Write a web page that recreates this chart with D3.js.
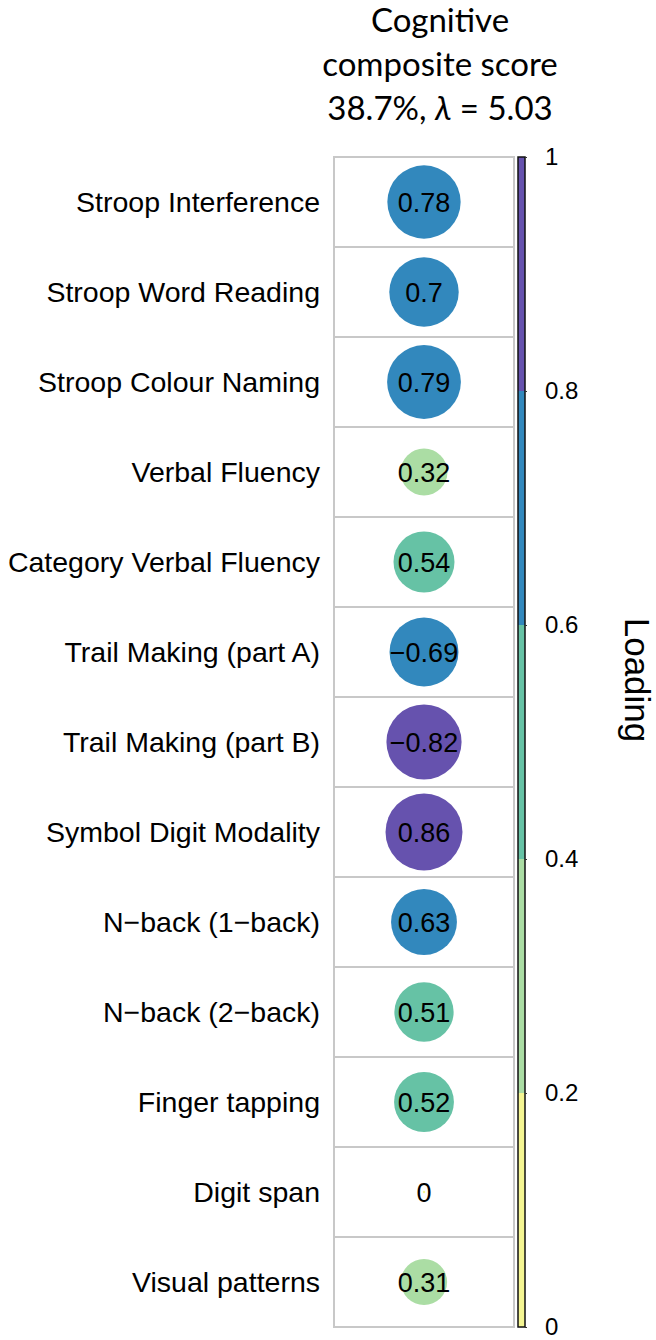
<!DOCTYPE html>
<html><head><meta charset="utf-8">
<script src="https://cdn.jsdelivr.net/npm/d3@7/dist/d3.min.js"></script>
<style>body{margin:0;background:#fff}</style>
</head><body>
<script>
const variables = ["Stroop Interference","Stroop Word Reading","Stroop Colour Naming","Verbal Fluency","Category Verbal Fluency","Trail Making (part A)","Trail Making (part B)","Symbol Digit Modality","N\u2212back (1\u2212back)","N\u2212back (2\u2212back)","Finger tapping","Digit span","Visual patterns"];
const loadings = [0.78,0.7,0.79,0.32,0.54,-0.69,-0.82,0.86,0.63,0.51,0.52,0,0.31];
const legendBreaks = [0,0.2,0.4,0.6,0.8,1];
const legendColors = ["#F4F592","#ABDDA4","#66C2A5","#3288BD","#6652AE"];
const legendTicks = [0,0.2,0.4,0.6,0.8,1];
const titleLines = ["Cognitive","composite score"];

const W=656,H=1340;
const svg=d3.select("body").append("svg").attr("width",W).attr("height",H);
const x0=334,x1=514,yTop=157,yBot=1327;
const y=d3.scaleBand().domain(variables).range([yTop,yBot]);
const color=d3.scaleThreshold().domain(legendBreaks.slice(1,-1)).range(legendColors);
const r=d3.scaleSqrt().domain([0,1]).range([0,41.5]);
const cx=(x0+x1)/2;
const sans="'Liberation Sans', Arial, sans-serif";

// title
const tf="Lato, 'Open Sans', sans-serif";
svg.selectAll("text.t").data(titleLines).join("text").attr("class","t")
 .attr("x",440).attr("y",(d,i)=>32+i*44).attr("text-anchor","middle")
 .attr("font-family",tf).attr("font-size",33).text(d=>d);
const t3=svg.append("text").attr("x",440).attr("y",120).attr("text-anchor","middle")
 .attr("font-family",tf).attr("font-size",33);
t3.append("tspan").text("38.7%, ");
t3.append("tspan").attr("font-style","italic").text("\u03BB");
t3.append("tspan").text(" = 5.03");

// cells
svg.selectAll("rect.cell").data(variables).join("rect").attr("class","cell")
 .attr("x",x0).attr("y",d=>y(d)).attr("width",x1-x0).attr("height",y.bandwidth())
 .attr("fill","none").attr("stroke","#c8c8c8").attr("stroke-width",2);

// circles
svg.selectAll("circle.c").data(variables).join("circle").attr("class","c")
 .attr("cx",cx).attr("cy",d=>y(d)+y.bandwidth()/2)
 .attr("r",(d,i)=>Math.max(1.2,r(Math.abs(loadings[i]))))
 .attr("fill",(d,i)=>color(Math.abs(loadings[i])));

const fmt=v=>(v<0?"\u2212":"")+String(Math.abs(v));
svg.selectAll("text.v").data(variables).join("text").attr("class","v")
 .attr("x",cx).attr("y",d=>y(d)+y.bandwidth()/2).attr("dy","0.36em")
 .attr("text-anchor","middle").attr("font-family",sans)
 .attr("font-size",27).text((d,i)=>fmt(loadings[i]));

// labels
svg.selectAll("text.l").data(variables).join("text").attr("class","l")
 .attr("x",320).attr("y",d=>y(d)+y.bandwidth()/2).attr("dy","0.36em")
 .attr("text-anchor","end").attr("font-family",sans)
 .attr("font-size",28.5).text(d=>d);

// colorbar
const ly=d3.scaleLinear().domain([0,1]).range([yBot,yTop]);
const bx=518,bw=7;
svg.selectAll("rect.lb").data(legendColors).join("rect").attr("class","lb")
 .attr("x",bx).attr("width",bw)
 .attr("y",(d,i)=>ly(legendBreaks[i+1])).attr("height",(d,i)=>ly(legendBreaks[i])-ly(legendBreaks[i+1]))
 .attr("fill",d=>d);
svg.append("rect").attr("x",bx).attr("y",yTop).attr("width",bw).attr("height",yBot-yTop)
 .attr("fill","none").attr("stroke","#111").attr("stroke-width",1.5);
const ax=svg.append("g").attr("transform",`translate(${bx+bw},0)`)
 .call(d3.axisRight(ly).tickValues(legendTicks).tickSize(2).tickPadding(18).tickFormat(d3.format("")));
ax.select(".domain").remove();
ax.selectAll("text").attr("font-family",sans).attr("font-size",24).attr("fill","#000");
ax.selectAll("line").attr("stroke","#333");

svg.append("text").attr("transform",`translate(625,680) rotate(90)`)
 .attr("text-anchor","middle").attr("font-family",sans)
 .attr("font-size",35).text("Loading");
</script>
</body></html>
